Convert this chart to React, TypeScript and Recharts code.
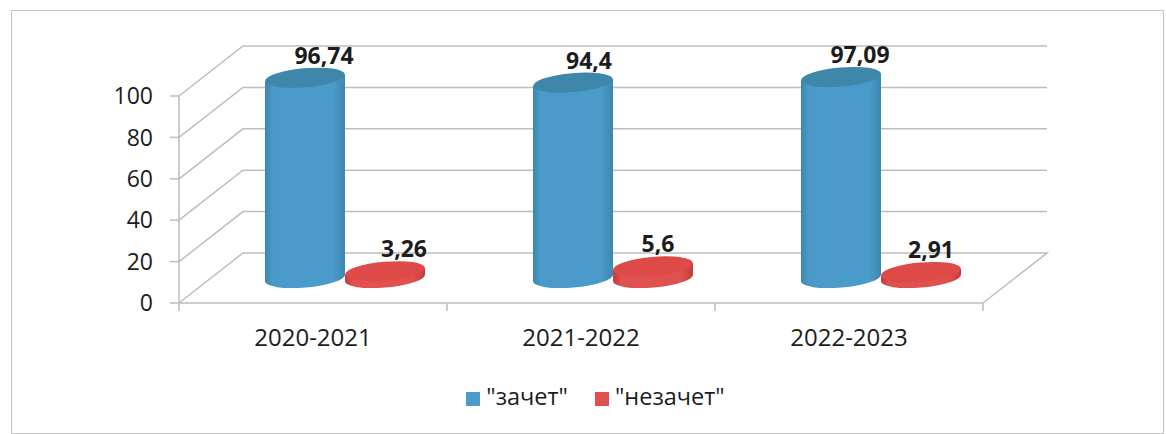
import React from 'react';
import { BarChart, Bar, XAxis, YAxis, CartesianGrid, Legend, LabelList } from 'recharts';

const years = ['2020-2021', '2021-2022', '2022-2023'];
const passed = [96.74, 94.4, 97.09];
const failed = [3.26, 5.6, 2.91];
const yTicks = [0, 20, 40, 60, 80, 100];

const chartData = years.map((year, i) => ({ year, passed: passed[i], failed: failed[i] }));

const FONT = '"Open Sans", sans-serif';
const GRID = '#bdbdbd';
const TEXT = '#1c1c1c';
const BLUE = '#4a9bc9';
const RED = '#e0504f';
const BAR_SIZE = 80;

// fake 3d: back wall is shifted by this much, bars stand half way
const DEPTH_X = 64;
const DEPTH_Y = 50;
const BAR_DX = 32;
const BAR_DY = 25;

// labels were dragged by hand in the original
const PASSED_NUDGE = [0, -3, 0];
const FAILED_NUDGE = [0, -14, -9];

const Cylinder = (props: any) => {
  const { x, y, width, height, fill, index, dark, top } = props;
  const rx = width / 2;
  const ry = 9.5;
  const tilt = 3.5;
  const cx = x + rx + BAR_DX;
  const topY = y - BAR_DY;
  const baseY = y + height - BAR_DY;
  const id = `cyl-${dark.slice(1)}-${index}`;
  const body = `M${cx - rx},${topY + tilt} L${cx - rx},${baseY + tilt} A${rx},${ry} -5 0 0 ${cx + rx},${baseY - tilt} L${cx + rx},${topY - tilt} Z`;
  return (
    <g>
      <defs>
        <linearGradient id={id} x1="0" x2="1" y1="0" y2="0">
          <stop offset="0%" stopColor={dark} />
          <stop offset="10%" stopColor={fill} />
          <stop offset="85%" stopColor={fill} />
          <stop offset="100%" stopColor={dark} />
        </linearGradient>
      </defs>
      <path d={body} fill={`url(#${id})`} />
      <ellipse cx={cx} cy={topY} rx={rx} ry={ry} fill={top} transform={`rotate(-5 ${cx} ${topY})`} />
    </g>
  );
};

const valueLabel = (nudge: number[]) => (props: any) => {
  const { x, y, value, index } = props;
  return (
    <text
      x={x + BAR_SIZE / 2 + 51 + nudge[index]}
      y={y - 39}
      textAnchor="middle"
      fontFamily={FONT}
      fontSize={23}
      fontWeight={700}
      fill={TEXT}
    >
      {String(value).replace('.', ',')}
    </text>
  );
};

const gridLine = (props: any) => {
  const { x1, x2, y1, index } = props;
  const backY = y1 - DEPTH_Y;
  const closeFloor = index === 0 ? ` L${x2},${y1}` : '';
  return (
    <path
      key={`wall-${index}`}
      d={`M${x1},${y1} L${x1 + DEPTH_X},${backY} L${x2 + DEPTH_X},${backY}${closeFloor}`}
      fill="none"
      stroke={GRID}
      strokeWidth={1.5}
    />
  );
};

const yearTick = (props: any) => {
  const { x, y, width, payload, index } = props;
  const band = width / years.length;
  return (
    <g>
      {index === 0 && <line x1={x - band / 2} x2={x - band / 2} y1={y} y2={y + 8} stroke={GRID} strokeWidth={1.5} />}
      <line x1={x + band / 2} x2={x + band / 2} y1={y} y2={y + 8} stroke={GRID} strokeWidth={1.5} />
      <text x={x} y={y + 43} textAnchor="middle" fontFamily={FONT} fontSize={24} fill={TEXT}>
        {payload.value}
      </text>
    </g>
  );
};

const legendText = (value: string) => (
  <span style={{ color: TEXT, fontFamily: FONT, fontSize: 23.5, marginLeft: 2, marginRight: 17, position: 'relative', top: 2 }}>
    {value}
  </span>
);

export default function App() {
  return (
    <div style={{ position: 'absolute', left: 0, top: 0, width: 1166, height: 434, background: '#fff', overflow: 'hidden' }}>
      <div
        style={{
          position: 'absolute',
          left: 11,
          top: 10,
          width: 1151,
          height: 422,
          border: '1.5px solid #c4c4c4',
        }}
      />
      <BarChart
        width={1166}
        height={434}
        data={chartData}
        margin={{ top: 96, right: 183, bottom: 59, left: 119 }}
        barSize={BAR_SIZE}
        barGap={0}
      >
        <CartesianGrid vertical={false} horizontal={gridLine} />
        <XAxis
          dataKey="year"
          height={40}
          tickLine={false}
          tickSize={0}
          tickMargin={0}
          axisLine={{ stroke: GRID, strokeWidth: 1.5 }}
          tick={yearTick}
          interval={0}
        />
        <YAxis
          width={60}
          domain={[0, 100]}
          ticks={yTicks}
          tickSize={9}
          tickMargin={17}
          axisLine={{ stroke: GRID, strokeWidth: 1.5 }}
          tickLine={{ stroke: GRID, strokeWidth: 1.5 }}
          tick={{ fontFamily: FONT, fontSize: 23, fill: TEXT }}
        />
        <Legend
          verticalAlign="bottom"
          align="center"
          iconType="square"
          iconSize={14}
          formatter={legendText}
          wrapperStyle={{ top: 378, left: 0, width: 1218 }}
        />
        <Bar
          dataKey="passed"
          name={'"зачет"'}
          fill={BLUE}
          isAnimationActive={false}
          shape={(p: any) => <Cylinder {...p} dark="#3f86b0" top="#3f86ab" />}
        >
          <LabelList dataKey="passed" content={valueLabel(PASSED_NUDGE)} />
        </Bar>
        <Bar
          dataKey="failed"
          name={'"незачет"'}
          fill={RED}
          isAnimationActive={false}
          shape={(p: any) => <Cylinder {...p} dark="#c23c38" top="#dd4a48" />}
        >
          <LabelList dataKey="failed" content={valueLabel(FAILED_NUDGE)} />
        </Bar>
      </BarChart>
    </div>
  );
}
